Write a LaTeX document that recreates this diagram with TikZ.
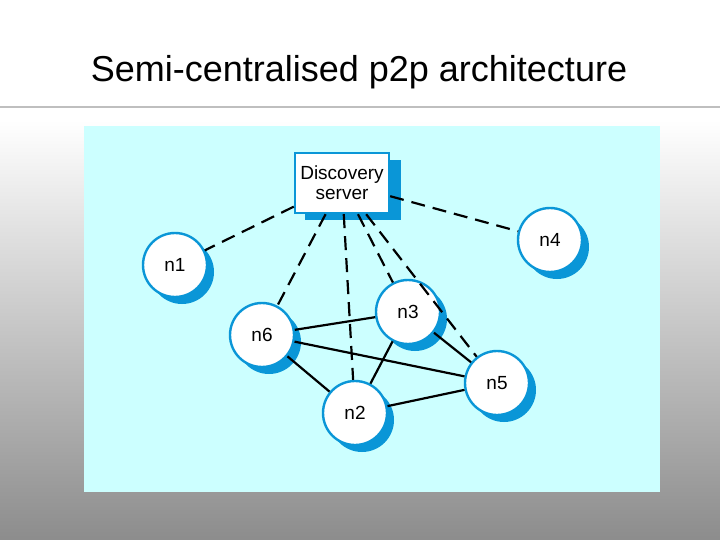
\documentclass[tikz,border=0pt]{standalone}
\usepackage{fontspec}
\setmainfont{Liberation Sans}
\begin{document}
\begin{tikzpicture}[x=1pt,y=-1pt,
  nd/.style={circle,draw=myblue,line width=2.4pt,fill=white,minimum size=64pt,inner sep=0pt,font=\fontsize{19}{22}\selectfont},
  sh/.style={circle,fill=myblue,minimum size=64pt,inner sep=0pt},
  dl/.style={line width=2.2pt,dash pattern=on 14pt off 8pt},
  sl/.style={line width=2.2pt}]
\definecolor{myblue}{RGB}{10,150,215}
\definecolor{panel}{RGB}{204,255,255}
\fill[white] (0,0) rectangle (720,120);
\shade[top color=white,bottom color=gray!90] (0,120) rectangle (720,540);
\useasboundingbox (0,0) rectangle (720,540);
\node[font=\fontsize{36}{40}\selectfont] (title) at (359,72) {Semi-centralised p2p architecture};
\draw[gray!50,line width=2.5pt] (0,107) -- (720,107);
\fill[panel] (84,126) rectangle (660,492);
% shadows
\fill[myblue] (305,160) rectangle (401,220);
\foreach \a/\b in {175/265,550/240,262/335,408/312,497/383,355/413}
  \node[sh] at (\a+7,\b+7) {};
% nodes
\node[draw=myblue,line width=2.4pt,fill=white,minimum width=94pt,minimum height=60pt,align=center,font=\fontsize{19}{20}\selectfont] (server) at (342,183) {Discovery\\server};
\node[nd] (n1) at (175,265) {n1};
\node[nd] (n4) at (550,240) {n4};
\node[nd] (n6) at (262,335) {n6};
\node[nd] (n3) at (408,312) {n3};
\node[nd] (n5) at (497,383) {n5};
\node[nd] (n2) at (355,413) {n2};
% edges
\draw[dl] (server) -- (n1); \draw[dl] (server) -- (n4); \draw[dl] (server) -- (n6);
\draw[dl] (server) -- (n2); \draw[dl] (server) -- (n3); \draw[dl] (server) -- (n5);
\draw[sl] (n6) -- (n3); \draw[sl] (n6) -- (n5); \draw[sl] (n6) -- (n2);
\draw[sl] (n3) -- (n5); \draw[sl] (n3) -- (n2); \draw[sl] (n2) -- (n5);
\end{tikzpicture}
\end{document}
